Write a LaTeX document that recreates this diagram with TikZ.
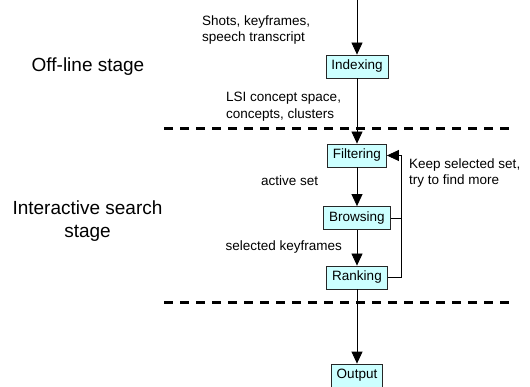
\documentclass[tikz,border=0pt]{standalone}
\usepackage{fontspec}
\setmainfont{Liberation Sans}
\usetikzlibrary{arrows.meta,positioning}
\definecolor{boxfill}{HTML}{CCFFFF}
\tikzset{
	proc/.style={draw=black!85,fill=boxfill,line width=0.8pt,minimum height=23pt,inner xsep=5.5pt,inner ysep=0pt,font=\fontsize{13.5}{16.5}\selectfont},
	lbl/.style={align=left,inner sep=0pt,font=\fontsize{13.5}{16.5}\selectfont},
	stage/.style={align=center,inner sep=0pt,font=\fontsize{19}{23}\selectfont},
	flow/.style={-{Triangle[length=12pt,width=11pt]},line width=0.8pt},
	sep/.style={line width=3pt,dash pattern=on 9pt off 7pt}
}
\begin{document}
\begin{tikzpicture}[x=1pt,y=-1pt]
	\useasboundingbox (0,0) rectangle (530,387);
	\path 
	(357,0) coordinate (src)
	(164,129) coordinate (A1)
	(513,129) coordinate (A2)
	(164,303) coordinate (B1)
	(513,303) coordinate (B2)
	;
	% process boxes
	\node[proc] (idx) at (357,66.5) {Indexing};
	\node[proc] (filt) at (357,155.5) {Filtering};
	\node[proc] (brow) at (357,218) {Browsing};
	\node[proc] (rank) at (357,277.5) {Ranking};
	\node[proc] (out) at (357,375.5) {Output};
	% stage separators
	\draw[sep] (A1)--(A2);
	\draw[sep] (B1)--(B2);
	% main flow
	\draw[flow] (src)--(idx);
	\draw[flow] (idx)--(filt);
	\draw[flow] (filt)--(brow);
	\draw[flow] (brow)--(rank);
	\draw[flow] (rank)--(out);
	% feedback loop
	\draw[flow] (rank.east)--++(14,0) coordinate (turn) |- (filt.east);
	\draw[line width=0.8pt] (brow.east)--(brow.east -| turn);
	% labels
	\node[lbl,anchor=west] (inp) at (202,30) {Shots, keyframes,\\speech transcript};
	\node[lbl,anchor=west] (lsi) at (226,106.5) {LSI concept space,\\concepts, clusters};
	\node[lbl,anchor=west] (act) at (261,181) {active set};
	\node[lbl,anchor=east] (sel) at (342,247) {selected keyframes};
	\node[lbl,anchor=west] (keep) at (409,173) {Keep selected set,\\try to find more};
	\node[stage] (off) at (88,67) {Off-line stage};
	\node[stage] (inter) at (87.5,221.5) {Interactive search\\stage};
\end{tikzpicture}
\end{document}
